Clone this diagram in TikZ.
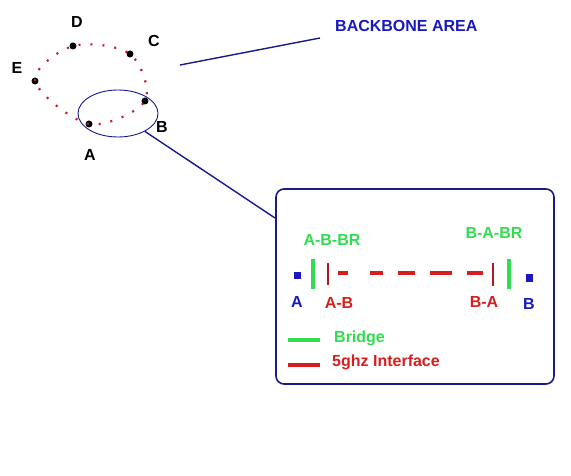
\documentclass[tikz,border=0pt]{standalone}
\usepackage{fontspec}
\setmainfont{Liberation Sans}
\usetikzlibrary{shapes.geometric}
\definecolor{brgreen}{RGB}{50,220,80}
\definecolor{ifred}{RGB}{215,30,30}
\definecolor{darkifred}{RGB}{175,25,35}
\definecolor{lblblue}{RGB}{25,25,190}
\definecolor{navy}{RGB}{25,25,140}
\definecolor{dotred}{RGB}{190,30,50}
\begin{document}
\begin{tikzpicture}[x=1pt,y=-1pt,
  lbl/.style={font=\fontsize{16}{18}\selectfont\bfseries, inner sep=0pt},
  router/.style={circle, fill=black, inner sep=0pt, minimum size=7pt},
  sq/.style={rectangle, fill=lblblue, inner sep=0pt, minimum size=7pt},
  brbar/.style={rectangle, fill=brgreen, inner sep=0pt, minimum width=4pt, minimum height=30pt},
  ifbar/.style={rectangle, fill=darkifred, inner sep=0pt, minimum width=2pt, minimum height=22pt},
  navyline/.style={draw=navy, line width=1.4pt}]
\useasboundingbox (0,0) rectangle (571,476);
\fill[white] (0,0) rectangle (571,476);

% routers
\node[router] (A) at (89,124) {};
\node[router] (B) at (145,101) {};
\node[router] (C) at (130,54) {};
\node[router] (D) at (73,46) {};
\node[router] (E) at (35,81) {};
\node[lbl] (lA) at (90,155) {A};
\node[lbl] (lB) at (162,127) {B};
\node[lbl] (lC) at (154,41) {C};
\node[lbl] (lD) at (77,22) {D};
\node[lbl] (lE) at (17,68) {E};

\draw[dotred, line width=2.2pt, dash pattern=on 2pt off 10pt]
  plot[smooth cycle, tension=0.55] coordinates {(A.center) (E.center) (D.center) (C.center) (B.center)};

\node[ellipse, draw=navy, line width=0.9pt, minimum width=80pt, minimum height=47pt, inner sep=0pt] (ell) at (118,113.5) {};

% backbone label
\node[lbl, text=lblblue, anchor=west] (bb) at (335,26) {BACKBONE AREA};
\coordinate (bbs) at (180,65);
\coordinate (bbe) at (320,38);
\draw[navyline] (bbs) -- (bbe);

% box
\node[draw=navy, line width=1.6pt, rounded corners=8pt, minimum width=278pt, minimum height=195pt, inner sep=0pt] (box) at (415,286.5) {};
\coordinate (bl) at (275,218);
\draw[navyline] (ell) -- (bl);

% inner items
\node[sq] (sqA) at (297,276) {};
\node[sq] (sqB) at (529,278) {};
\node[brbar] (brA) at (313,274) {};
\node[ifbar] (ifA) at (328,274) {};
\node[ifbar] (ifB) at (493,274.5) {};
\node[brbar] (brB) at (509,274) {};
\draw[ifred, line width=4pt, dash pattern=on 10pt off 22pt on 13pt off 15pt on 17pt off 15pt on 22pt off 15pt on 16pt off 30pt, dash phase=166pt]
  (ifA.east |- 0,273) -- (ifB.west |- 0,273);

\node[lbl, text=lblblue] (tA) at (297,302) {A};
\node[lbl, text=lblblue] (tB) at (529,304) {B};
\node[lbl, text=ifred] (tAB) at (339,303) {A-B};
\node[lbl, text=ifred] (tBA) at (484,302) {B-A};
\node[lbl, text=brgreen] (tABBR) at (332,240) {A-B-BR};
\node[lbl, text=brgreen] (tBABR) at (494,233) {B-A-BR};

% legend
\coordinate (lg1a) at (288,340);
\coordinate (lg1b) at (320,340);
\coordinate (lg2a) at (288,365);
\coordinate (lg2b) at (320,365);
\draw[brgreen, line width=4.5pt] (lg1a) -- (lg1b);
\draw[ifred, line width=4.5pt] (lg2a) -- (lg2b);
\node[lbl, text=brgreen, anchor=west] (tbr) at (334,338) {Bridge};
\node[lbl, text=ifred, anchor=west] (tif) at (332,362) {5ghz Interface};
\end{tikzpicture}
\end{document}
